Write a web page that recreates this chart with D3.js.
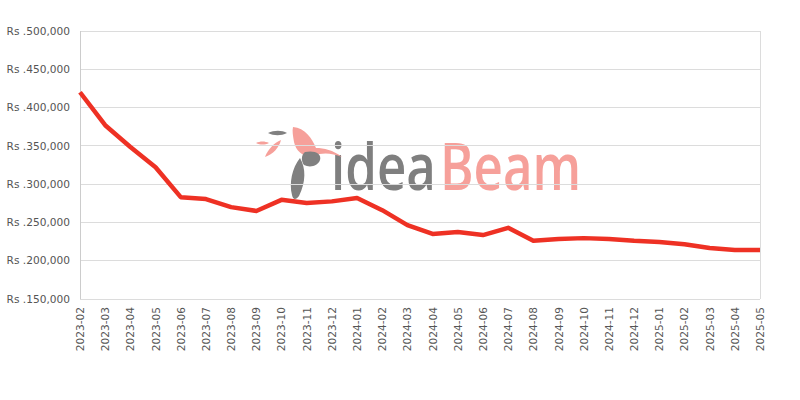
<!DOCTYPE html>
<html><head><meta charset="utf-8">
<script src="https://cdn.jsdelivr.net/npm/d3@7"></script>
<style>body{margin:0;background:#fff}svg{display:block}</style>
</head><body><svg id="c" width="800" height="400"></svg>
<script>
const months = ["2023-02","2023-03","2023-04","2023-05","2023-06","2023-07","2023-08","2023-09","2023-10","2023-11","2023-12","2024-01","2024-02","2024-03","2024-04","2024-05","2024-06","2024-07","2024-08","2024-09","2024-10","2024-11","2024-12","2025-01","2025-02","2025-03","2025-04","2025-05"];
const prices = [420000,377000,348500,322000,283000,280500,270000,265000,279500,275500,277500,282000,266000,246500,235000,237500,233500,243000,226000,228500,229500,228500,226000,224500,221500,216500,214000,214000];
const yTicks = [150000,200000,250000,300000,350000,400000,450000,500000];

const svg = d3.select("#c");
const m = {l:80, r:760, t:31, b:299};
const x = d3.scalePoint().domain(months).range([m.l, m.r]);
const y = d3.scaleLinear().domain([150000,500000]).range([m.b, m.t]);

// watermark logo
const logo = svg.append("g");
const wm = logo.append("g").attr("transform","translate(331,190) scale(1,1.27)");
const t1 = wm.append("text").attr("x",0).attr("y",0).attr("font-family","Open Sans, sans-serif")
  .attr("font-size",51).attr("font-weight",600).attr("fill","#7f7f7f").text("idea");
const w1 = t1.node().getComputedTextLength();
wm.append("text").attr("x",w1+4).attr("y",0).attr("font-family","Open Sans, sans-serif")
  .attr("font-size",51).attr("font-weight",600).attr("fill","#f6a09a").text("Beam");
// bird
logo.append("path").attr("fill","#f6a09a")
  .attr("d","M293,127 C305,128 312,138 316,148 C324,148 333,150 342,157 C332,153 322,152 314,156 C305,158 296,152 294,142 C293,136 292,131 293,127Z");
logo.append("path").attr("fill","#808080")
  .attr("d","M305,152 C314,150 322,153 320,160 C318,166 310,168 304,165 C301,161 301,155 305,152Z");
logo.append("path").attr("fill","#808080")
  .attr("d","M300,158 C306,168 306,182 299,196 C296,200 293,200 292,195 C289,183 292,168 300,158Z");
logo.append("path").attr("fill","#808080")
  .attr("d","M268,133 C274,130 282,130 287,133 C281,136 274,136 268,133Z");
logo.append("path").attr("fill","#f6a09a")
  .attr("d","M256,143 C260,141 265,141 269,143 C265,145 260,145 256,143Z");
logo.append("path").attr("fill","#f6a09a")
  .attr("d","M265,157 C268,149 274,143 281,140 C279,148 273,154 265,157Z");

// grid
svg.append("g").selectAll("line").data(yTicks).join("line")
  .attr("x1",m.l).attr("x2",m.r).attr("y1",d=>y(d)).attr("y2",d=>y(d))
  .attr("stroke","#dcdcdc").attr("stroke-width",1).attr("shape-rendering","crispEdges");
svg.append("line").attr("x1",m.l).attr("x2",m.l).attr("y1",m.t).attr("y2",m.b)
  .attr("stroke","#cccccc").attr("shape-rendering","crispEdges");
svg.append("line").attr("x1",m.r).attr("x2",m.r).attr("y1",m.t).attr("y2",m.b)
  .attr("stroke","#dcdcdc").attr("shape-rendering","crispEdges");

// y labels
const fmt = d3.format(",");
svg.append("g").selectAll("text").data(yTicks).join("text")
  .attr("x",70).attr("y",d=>y(d)).attr("dy","0.35em").attr("text-anchor","end")
  .attr("font-family","DejaVu Sans, sans-serif").attr("font-size",10.6).attr("fill","#555")
  .text(d=>"Rs ."+fmt(d));

// x labels
svg.append("g").selectAll("text").data(months).join("text")
  .attr("transform",d=>`translate(${x(d)+4},307) rotate(-90)`)
  .attr("text-anchor","end")
  .attr("font-family","DejaVu Sans, sans-serif").attr("font-size",10.6).attr("fill","#555")
  .text(d=>d);

// line
const line = d3.line().x((d,i)=>x(months[i])).y(d=>y(d));
svg.append("path").datum(prices).attr("d",line).attr("fill","none")
  .attr("stroke","#ee3124").attr("stroke-width",4.5).attr("stroke-linejoin","round");
</script></body></html>
